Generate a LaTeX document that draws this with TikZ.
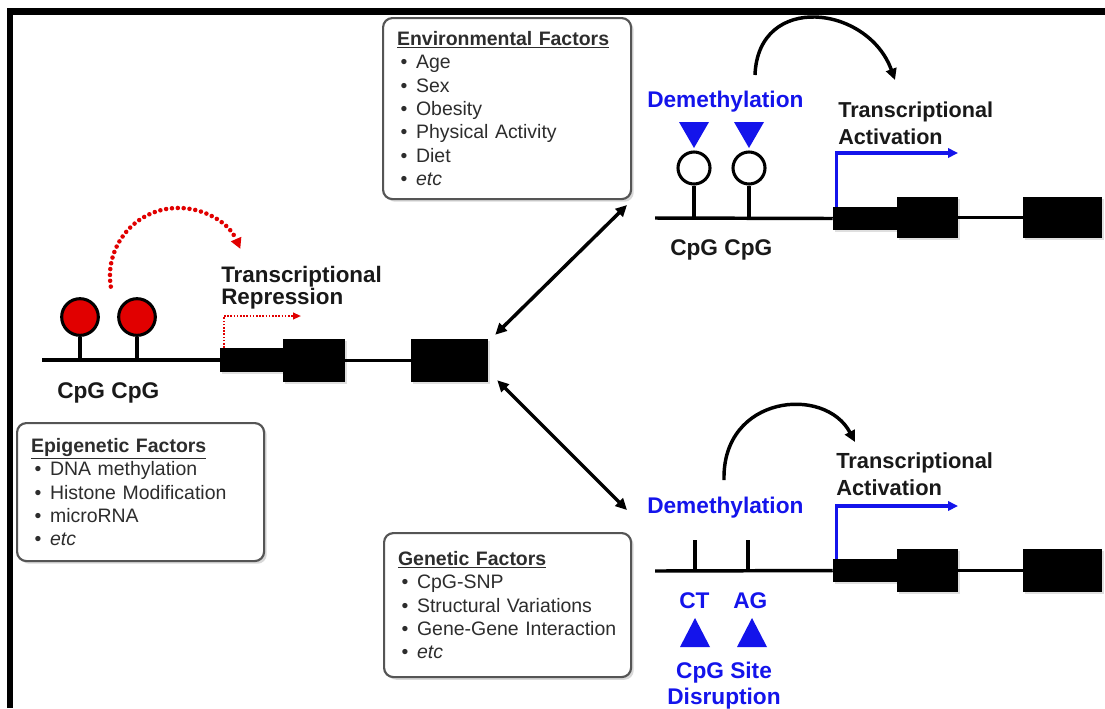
\documentclass[tikz,border=0pt]{standalone}
\usepackage{fontspec}
\setmainfont{Liberation Sans}
\usetikzlibrary{arrows.meta,shadows}
\definecolor{dblue}{RGB}{20,20,235}
\definecolor{pinred}{RGB}{225,0,0}
\definecolor{boxgray}{RGB}{85,85,85}
\definecolor{txtgray}{RGB}{45,45,45}
\definecolor{headtxt}{RGB}{25,25,25}
\newcommand\bitem[1]{\makebox[14.25pt][l]{\hspace{2.6pt}\textbullet}#1}
\begin{document}
\begin{tikzpicture}[x=0.75pt,y=-0.75pt,
  gbox/.style={fill=black, draw=none, inner sep=0pt,
    drop shadow={shadow xshift=1.2pt, shadow yshift=-1.2pt, opacity=0.25}},
  geneline/.style={line width=2.6pt, black},
  stem/.style={line width=2.6pt, black},
  redpin/.style={circle, fill=pinred, draw=black, line width=2.3pt, minimum size=27.5pt, inner sep=0pt},
  openpin/.style={circle, fill=white, draw=black, line width=2.3pt, minimum size=24pt, inner sep=0pt},
  factbox/.style={draw=boxgray, line width=1.6pt, rounded corners=7pt, fill=white,
    align=left, inner xsep=10.5pt, inner ysep=0pt, anchor=north west,
    font=\fontsize{14.6}{17.6}\selectfont, text=txtgray,
    drop shadow={shadow xshift=2pt, shadow yshift=-2pt, opacity=0.3}},
  head/.style={font=\bfseries\fontsize{17}{19.5}\selectfont, inner sep=0pt, text=headtxt},
  bluehead/.style={head, text=dblue},
  dbl/.style={{Triangle[length=8.5pt,width=8pt]}-{Triangle[length=8.5pt,width=8pt]}, line width=2.6pt},
  arcarrow/.style={-{Triangle[length=8.5pt,width=8pt]}, line width=2.6pt},
  bluearrow/.style={-{Triangle[length=7.5pt,width=7pt]}, line width=2.4pt, dblue},
  reddot/.style={-{Triangle[length=6pt,width=5pt]}, line width=1.4pt, pinred, dash pattern=on 1.2pt off 1.2pt},
  redarc/.style={-{Triangle[length=8pt,width=8pt]}, line width=3.4pt, pinred, line cap=round, dash pattern=on 0pt off 4.4pt}
]
\fill[white] (0,0) rectangle (1105,708);
\useasboundingbox (0,0) rectangle (1105,708);

% frame
\draw[line width=4.9pt] (10,708) -- (10,11.5) -- (1105,11.5);

% ---------- left gene ----------
\node[gbox, minimum width=47.25pt, minimum height=18pt] (L1) at (251.5,360) {};
\node[gbox, minimum width=46.5pt, minimum height=32.25pt] (L2) at (314,360.5) {};
\node[gbox, minimum width=57.75pt, minimum height=32.25pt] (L3) at (449.5,360.5) {};
\coordinate (Lstart) at (42,360);
\draw[geneline] (Lstart) -- (L1.west);
\draw[geneline] (L2.east) -- (L3.west);
\node[redpin] (R1) at (80,317) {};
\node[redpin] (R2) at (137,317) {};
\draw[stem] (R1.south) -- (R1.south |- Lstart);
\draw[stem] (R2.south) -- (R2.south |- Lstart);
\node[head, anchor=base west] (lcpg) at (57,398) {CpG CpG};
\node[head, anchor=north west, align=left, font=\bfseries\fontsize{16.8}{16.7}\selectfont] (lrep) at (221,265.5) {Transcriptional\\Repression};
\coordinate (RAtip) at (301,316);
\draw[reddot] ([xshift=3pt]L1.north west) |- (RAtip);
\coordinate (RCstart) at (110.8,286.6);
\draw[redarc] (RCstart) arc[start angle=189, end angle=23.5, radius=51pt];

% ---------- upper right gene ----------
\node[gbox, minimum width=48pt, minimum height=17.25pt] (U1) at (865,218.5) {};
\node[gbox, minimum width=45.75pt, minimum height=30.75pt] (U2) at (927.5,217.5) {};
\node[gbox, minimum width=59.25pt, minimum height=30.75pt] (U3) at (1062.5,217.5) {};
\coordinate (Ustart) at (655,218);
\draw[geneline] (Ustart) -- (U1.west);
\draw[geneline] (U2.east) -- (U3.west);
\node[openpin] (O1) at (694,168) {};
\node[openpin] (O2) at (749,168) {};
\draw[stem] (O1.south) -- (O1.south |- Ustart);
\draw[stem] (O2.south) -- (O2.south |- Ustart);
\fill[dblue] (679,122) -- (709,122) -- (694,148) -- cycle;
\fill[dblue] (734,122) -- (764,122) -- (749,148) -- cycle;
\node[bluehead, anchor=base west] (udem) at (647,107) {Demethylation};
\node[head, anchor=base west] (ucpg) at (670,255) {CpG CpG};
\node[head, anchor=north west, align=left, font=\bfseries\fontsize{16.2}{20}\selectfont] (uact) at (838,101.5) {Transcriptional\\Activation};
\coordinate (UAtip) at (958,153);
\draw[bluearrow] ([xshift=3pt]U1.north west) |- (UAtip);
\coordinate (UCa) at (755,75);
\coordinate (UCb) at (895,80);
\draw[arcarrow] (UCa) .. controls (758,-8) and (868,5) .. (UCb);

% ---------- lower right gene ----------
\node[gbox, minimum width=48pt, minimum height=17.25pt] (D1) at (865,570.5) {};
\node[gbox, minimum width=45.75pt, minimum height=32.25pt] (D2) at (927.5,570.5) {};
\node[gbox, minimum width=59.25pt, minimum height=32.25pt] (D3) at (1062.5,570.5) {};
\coordinate (Dstart) at (655,571);
\draw[geneline] (Dstart) -- (D1.west);
\draw[geneline] (D2.east) -- (D3.west);
\coordinate (T1) at (695,540);
\coordinate (T2) at (748,540);
\draw[stem] (T1) -- (T1 |- Dstart);
\draw[stem] (T2) -- (T2 |- Dstart);
\node[bluehead, anchor=base west] (ddem) at (647,513) {Demethylation};
\node[bluehead, anchor=base west] (dct) at (679,608) {CT};
\node[bluehead, anchor=base west] (dag) at (733,608) {AG};
\fill[dblue] (680,647) -- (710,647) -- (695,618) -- cycle;
\fill[dblue] (737,647) -- (767,647) -- (752,618) -- cycle;
\node[bluehead, anchor=north, align=center] (dsite) at (724,661.5) {CpG Site\\Disruption};
\node[head, anchor=north west, align=left, font=\bfseries\fontsize{16.4}{20}\selectfont] (dact) at (836,452.5) {Transcriptional\\Activation};
\coordinate (DAtip) at (958,506);
\draw[bluearrow] ([xshift=3pt]D1.north west) |- (DAtip);
\coordinate (DCa) at (724,480);
\coordinate (DCb) at (855,442);
\draw[arcarrow] (DCa) .. controls (722,395) and (825,385) .. (DCb);

% ---------- factor boxes ----------
\node[factbox, text width=165pt, minimum height=135.75pt] (env) at (382,17) {%
\underline{\textbf{Environmental Factors}}\\
\bitem{Age}\\
\bitem{Sex}\\
\bitem{Obesity}\\
\bitem{Physical Activity}\\
\bitem{Diet}\\
\bitem{\textit{etc}}};
\node[factbox, text width=164.25pt, minimum height=103.5pt] (epi) at (16,422) {%
\underline{\textbf{Epigenetic Factors}}\\
\bitem{DNA methylation}\\
\bitem{Histone Modification}\\
\bitem{microRNA}\\
\bitem{\textit{etc}}};
\node[factbox, text width=164.25pt, minimum height=108pt] (gen) at (383,532) {%
\underline{\textbf{Genetic Factors}}\\
\bitem{CpG-SNP}\\
\bitem{Structural Variations}\\
\bitem{Gene-Gene Interaction}\\
\bitem{\textit{etc}}};

% ---------- double arrows ----------
\coordinate (envtip) at (627,205);
\coordinate (gentip) at (627,510);
\draw[dbl] ([shift={(7,-4)}]L3.north east) -- (envtip);
\draw[dbl] ([shift={(9,-2)}]L3.south east) -- (gentip);
\end{tikzpicture}
\end{document}
